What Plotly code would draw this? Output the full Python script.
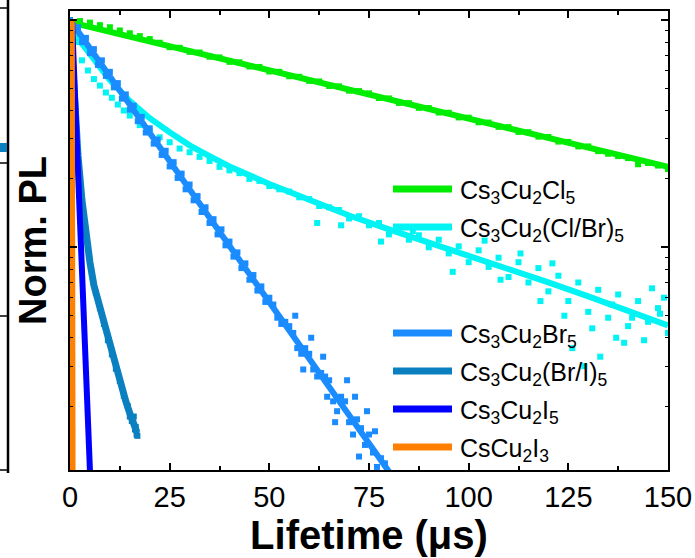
import plotly.graph_objects as go

# ---------------- data ----------------
# Cs3Cu2Cl5
cl_fit_t = [0, 150]
cl_fit_i = [0.98, 0.226]
cl_t = [0, 2.5, 5, 7.5, 10, 12.5, 15, 17.5, 20, 22.5, 25, 27.5, 30, 32.5, 35, 37.5, 40, 42.5, 45, 47.5,
        50, 52.5, 55, 57.5, 60, 62.5, 65, 67.5, 70, 72.5, 75, 77.5, 80, 82.5, 85, 87.5, 90, 92.5, 95, 97.5,
        100, 102.5, 105, 107.5, 110, 112.5, 115, 117.5, 120, 122.5, 125, 127.5, 130, 132.5, 135, 137.5,
        140, 142.5, 145, 147.5, 150]
cl_i = [1.00, 0.99, 0.975, 0.95, 0.93, 0.90, 0.875, 0.85, 0.825, 0.795, 0.760, 0.755, 0.725, 0.720, 0.690,
        0.685, 0.655, 0.652, 0.625, 0.622, 0.594, 0.592, 0.566, 0.563, 0.540, 0.537, 0.513, 0.511, 0.489,
        0.487, 0.476, 0.454, 0.452, 0.432, 0.431, 0.411, 0.410, 0.392, 0.391, 0.373, 0.372, 0.355, 0.354,
        0.339, 0.338, 0.322, 0.321, 0.307, 0.306, 0.292, 0.291, 0.278, 0.278, 0.265, 0.258, 0.252, 0.247,
        0.232, 0.235, 0.229, 0.221]

# Cs3Cu2(Cl/Br)5
cb_fit_t = [0, 5, 10, 15, 20, 25, 30, 35, 40, 50, 60, 70, 80, 90, 100, 110, 120, 130, 140, 150]
cb_fit_i = [0.922, 0.701, 0.544, 0.440, 0.370, 0.321, 0.281, 0.252, 0.227, 0.190, 0.161, 0.138, 0.120,
            0.105, 0.0922, 0.0808, 0.0701, 0.0608, 0.0528, 0.0453]
cb_t = [0, 1.5, 3, 4.5, 6, 7.5, 9, 10.5, 12, 13.5, 15, 17.5, 20, 22.5, 25, 27.5, 30, 32.5, 35, 37.5, 40,
        42.5, 45, 47.5, 50, 52.5, 55, 57.5, 60, 62.5, 65, 67.5, 70, 72.5, 75, 77.5, 80, 82.5, 85, 87.5, 90,
        92.5, 95, 97.5, 100, 102.5, 105, 107.5, 110, 112.5, 115, 117.5, 120, 122.5, 125, 127.5, 130, 132.5,
        135, 137.5, 140, 142.5, 145, 147.5, 150,
        62, 68, 78, 86, 96, 104, 108, 113, 118, 121, 124, 126, 129, 131, 133, 136, 137, 139, 141, 144, 146,
        148, 149]
cb_i = [0.95, 0.80, 0.665, 0.60, 0.55, 0.515, 0.48, 0.455, 0.425, 0.40, 0.38, 0.345, 0.325, 0.305, 0.29,
        0.272, 0.262, 0.25, 0.24, 0.226, 0.218, 0.212, 0.200, 0.196, 0.186, 0.180, 0.176, 0.166, 0.163,
        0.152, 0.150, 0.146, 0.134, 0.137, 0.125, 0.128, 0.114, 0.122, 0.108, 0.113, 0.100, 0.108, 0.094,
        0.101, 0.086, 0.097, 0.082, 0.090, 0.074, 0.086, 0.070, 0.081, 0.064, 0.075, 0.058, 0.070, 0.052,
        0.065, 0.049, 0.062, 0.045, 0.058, 0.047, 0.054, 0.042,
        0.128, 0.125, 0.106, 0.118, 0.078, 0.107, 0.072, 0.094, 0.058, 0.085, 0.050, 0.036, 0.030, 0.044,
        0.033, 0.056, 0.040, 0.038, 0.049, 0.039, 0.066, 0.051, 0.060]

# Cs3Cu2Br5
br_fit_t = [0, 82]
br_fit_i = [1.0, 0.00919]
br_t = list(range(0, 81)) + [56.5, 60.5, 63.5, 66.5, 69.5, 72.5, 74.5, 76.5, 71.5, 58.5, 64.5]
br_i = [1.00, 0.90, 0.93, 0.80, 0.835, 0.715, 0.745, 0.635, 0.665, 0.568, 0.592, 0.506, 0.528, 0.451,
        0.471, 0.403, 0.420, 0.359, 0.375, 0.320, 0.334, 0.286, 0.298, 0.255, 0.266, 0.227, 0.237, 0.202,
        0.211, 0.180, 0.189, 0.161, 0.168, 0.143, 0.150, 0.128, 0.133, 0.114, 0.120, 0.102, 0.106, 0.091,
        0.095, 0.081, 0.085, 0.072, 0.0755, 0.0645, 0.0673, 0.0575, 0.060,
        0.056, 0.049, 0.046, 0.047, 0.045, 0.042,
        0.036, 0.034, 0.036, 0.034, 0.029, 0.027, 0.028, 0.027, 0.026, 0.021, 0.019, 0.022, 0.021, 0.017,
        0.015, 0.0175, 0.016, 0.0135, 0.0150, 0.0125, 0.0108, 0.0118, 0.0112, 0.0100,
        0.050, 0.040, 0.033, 0.017, 0.026, 0.012, 0.019, 0.0155, 0.022, 0.029, 0.022]

# Cs3Cu2(Br/I)5
bi_fit_t = [0, 1, 2, 3, 4, 5, 6, 7, 8, 9, 10, 11, 12, 13, 14, 15, 16, 16.8]
bi_fit_i = [1.0, 0.467, 0.254, 0.161, 0.113, 0.0859, 0.068, 0.0584, 0.0497, 0.0422, 0.0363, 0.0315,
            0.0273, 0.0239, 0.021, 0.0186, 0.0166, 0.0153]
bi_t = [0.25, 0.5, 0.75, 1.25, 1.5, 1.75, 2.5, 3.5, 4.5, 5.5, 6.5, 7.5, 8.5, 9.5, 10.5, 11.5, 12.5, 13.5,
        14.5, 15, 15.5, 16, 16.3, 16.5, 16.7, 16.9]
bi_i = [0.80, 0.66, 0.55, 0.40, 0.34, 0.29, 0.20, 0.135, 0.098, 0.077, 0.063, 0.054, 0.046, 0.039, 0.0338,
        0.0292, 0.0258, 0.0222, 0.0200, 0.0180, 0.0172, 0.0180, 0.0158, 0.0162, 0.0150, 0.0148]

# Cs3Cu2I5
i5_fit_t = [0.5, 5.3]
i5_fit_i = [1.0, 0.0077]

# CsCu2I3
ci_fit_t = [0.45, 0.65]
ci_fit_i = [1.0, 0.008]

series = [
    ("Cs<sub>3</sub>Cu<sub>2</sub>Cl<sub>5</sub>", "#00ec00", cl_t, cl_i, cl_fit_t, cl_fit_i, 6),
    ("Cs<sub>3</sub>Cu<sub>2</sub>(Cl/Br)<sub>5</sub>", "#00f4f4", cb_t, cb_i, cb_fit_t, cb_fit_i, 6),
    ("Cs<sub>3</sub>Cu<sub>2</sub>Br<sub>5</sub>", "#1a8cff", br_t, br_i, br_fit_t, br_fit_i, 6),
    ("Cs<sub>3</sub>Cu<sub>2</sub>(Br/I)<sub>5</sub>", "#0a80c0", bi_t, bi_i, bi_fit_t, bi_fit_i, 7),
    ("Cs<sub>3</sub>Cu<sub>2</sub>I<sub>5</sub>", "#0000ff", None, None, i5_fit_t, i5_fit_i, 6),
    ("CsCu<sub>2</sub>I<sub>3</sub>", "#ff8000", None, None, ci_fit_t, ci_fit_i, 6),
]

# ---------------- figure ----------------
W, H = 695, 558
L, R, T, B = 70, 27, 11, 88
PW, PH = W - L - R, H - T - B


def px(xp):
    return (xp - L) / PW


def py(yp):
    return (H - B - yp) / PH


fig = go.Figure()
for name, col, st, si, ft, fi, lw in series:
    if st is not None:
        fig.add_trace(go.Scatter(x=st, y=si, mode="markers",
                                 marker=dict(symbol="square", size=6, color=col, line=dict(width=0)),
                                 showlegend=False, hoverinfo="skip"))
    fig.add_trace(go.Scatter(x=ft, y=fi, mode="lines", line=dict(color=col, width=lw),
                             showlegend=False, name=name))

font_family = "Arial, Liberation Sans, sans-serif"

# manual legend (two groups)
legend_y = [189, 227, 333, 371, 409, 447]
shapes = []
annotations = []
for (name, col, *_rest), ly in zip(series, legend_y):
    shapes.append(dict(type="line", xref="paper", yref="paper", x0=px(393), x1=px(452),
                       y0=py(ly), y1=py(ly), line=dict(color=col, width=7)))
    annotations.append(dict(xref="paper", yref="paper", x=px(458), y=py(ly + 3), text=name,
                            showarrow=False, xanchor="left", yanchor="middle",
                            font=dict(size=25, color="black", family=font_family)))

# remnants of the neighbouring panel at the left edge
shapes.append(dict(type="line", xref="paper", yref="paper", x0=px(8), x1=px(8), y0=py(0), y1=py(473),
                   line=dict(color="black", width=2.5)))
for ty in [8, 163, 316, 470]:
    shapes.append(dict(type="line", xref="paper", yref="paper", x0=px(0), x1=px(8), y0=py(ty), y1=py(ty),
                       line=dict(color="black", width=1.5)))
shapes.append(dict(type="rect", xref="paper", yref="paper", x0=px(0), x1=px(7), y0=py(152), y1=py(143),
                   line=dict(width=0), fillcolor="#0a80c0"))

fig.update_layout(
    width=W, height=H,
    margin=dict(l=L, r=R, t=T, b=B, pad=0, autoexpand=False),
    paper_bgcolor="white", plot_bgcolor="white",
    showlegend=False,
    shapes=shapes, annotations=annotations,
    font=dict(family=font_family, color="black"),
    xaxis=dict(range=[0, 150], tick0=0, dtick=25, ticks="inside", ticklen=7, tickwidth=1.5,
               tickcolor="black", showline=True, linewidth=2, linecolor="black", mirror="ticks",
               showgrid=False, zeroline=False, automargin=False,
               minor=dict(ticks="inside", ticklen=4, tickwidth=1.5, dtick=12.5, tickcolor="black"),
               tickfont=dict(size=29, family=font_family),
               title=dict(text="<b>Lifetime (μs)</b>", font=dict(size=40, family=font_family), standoff=6)),
    yaxis=dict(type="log", range=[-1.98, 0.04], dtick=1, ticks="inside", ticklen=7, tickwidth=1.5,
               tickcolor="black", showline=True, linewidth=2, linecolor="black", mirror="ticks",
               showgrid=False, zeroline=False, showticklabels=False, automargin=False,
               minor=dict(ticks="inside", ticklen=3, tickwidth=1, dtick="D1", tickcolor="black"),
               title=dict(text="<b>Norm. PL</b>", font=dict(size=38, family=font_family), standoff=10)),
)

fig.write_html("out.html")
